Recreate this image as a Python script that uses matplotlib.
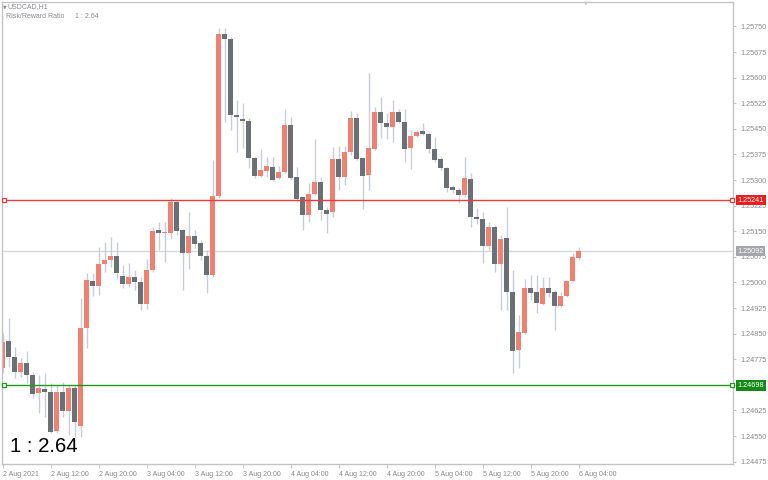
import matplotlib
matplotlib.use("Agg")
import matplotlib.pyplot as plt
import matplotlib.transforms as mtransforms
import numpy as np

plt.rcParams["font.family"] = ["Liberation Sans", "DejaVu Sans"]

# hourly USDCAD candles
opens = [1.24749, 1.24828, 1.24781, 1.24738, 1.24764, 1.24729, 1.24676, 1.24688, 1.24679, 1.24565,
         1.24679, 1.24623, 1.24691, 1.24579, 1.24866, 1.25004, 1.24989, 1.25054, 1.25066, 1.25077,
         1.25019, 1.24995, 1.25016, 1.25001, 1.24937, 1.25036, 1.25154, 1.25145, 1.25145, 1.25236,
         1.25154, 1.25086, 1.25136, 1.25115, 1.25077, 1.25022, 1.25253, 1.25728, 1.25713, 1.25490,
         1.25479, 1.25473, 1.25364, 1.25312, 1.25326, 1.25338, 1.25306, 1.25323, 1.25461, 1.25309,
         1.25250, 1.25197, 1.25259, 1.25294, 1.25212, 1.25206, 1.25362, 1.25309, 1.25382, 1.25482,
         1.25364, 1.25315, 1.25391, 1.25499, 1.25467, 1.25455, 1.25499, 1.25470, 1.25394, 1.25429,
         1.25444, 1.25435, 1.25391, 1.25362, 1.25335, 1.25279, 1.25271, 1.25256, 1.25303, 1.25192,
         1.25186, 1.25107, 1.25162, 1.25054, 1.25130, 1.24972, 1.24802, 1.24852, 1.24984, 1.24972,
         1.24937, 1.24984, 1.24972, 1.24931, 1.24960, 1.25004, 1.25071]
highs = [1.24852, 1.24896, 1.24811, 1.24779, 1.24799, 1.24738, 1.24729, 1.24735, 1.24705, 1.24699,
         1.24708, 1.24699, 1.24699, 1.24954, 1.25028, 1.25028, 1.25104, 1.25118, 1.25133, 1.25118,
         1.25051, 1.25057, 1.25036, 1.25016, 1.25069, 1.25162, 1.25177, 1.25177, 1.25247, 1.25241,
         1.25156, 1.25206, 1.25154, 1.25124, 1.25095, 1.25359, 1.25745, 1.25745, 1.25719, 1.25534,
         1.25526, 1.25482, 1.25367, 1.25391, 1.25367, 1.25367, 1.25341, 1.25508, 1.25485, 1.25338,
         1.25250, 1.25291, 1.25420, 1.25309, 1.25221, 1.25397, 1.25400, 1.25400, 1.25502, 1.25496,
         1.25367, 1.25613, 1.25514, 1.25543, 1.25496, 1.25534, 1.25508, 1.25508, 1.25446, 1.25446,
         1.25467, 1.25441, 1.25426, 1.25367, 1.25338, 1.25285, 1.25277, 1.25367, 1.25320, 1.25218,
         1.25206, 1.25177, 1.25168, 1.25139, 1.25221, 1.25036, 1.24904, 1.25010, 1.25022, 1.25022,
         1.25016, 1.25016, 1.24978, 1.24972, 1.25007, 1.25086, 1.25104]
lows = [1.24735, 1.24752, 1.24720, 1.24723, 1.24705, 1.24661, 1.24617, 1.24606, 1.24559, 1.24559,
        1.24606, 1.24553, 1.24547, 1.24547, 1.24808, 1.24960, 1.24963, 1.25030, 1.25045, 1.25013,
        1.24984, 1.24987, 1.24978, 1.24919, 1.24922, 1.25030, 1.25095, 1.25060, 1.25127, 1.25139,
        1.24978, 1.25039, 1.25101, 1.25066, 1.24969, 1.25016, 1.25247, 1.25470, 1.25446, 1.25382,
        1.25394, 1.25335, 1.25306, 1.25309, 1.25309, 1.25297, 1.25303, 1.25320, 1.25300, 1.25236,
        1.25154, 1.25177, 1.25256, 1.25183, 1.25145, 1.25192, 1.25271, 1.25285, 1.25373, 1.25359,
        1.25215, 1.25271, 1.25388, 1.25423, 1.25420, 1.25411, 1.25467, 1.25353, 1.25332, 1.25426,
        1.25432, 1.25379, 1.25353, 1.25329, 1.25265, 1.25262, 1.25233, 1.25250, 1.25162, 1.25171,
        1.25057, 1.25095, 1.25030, 1.24919, 1.24919, 1.24735, 1.24749, 1.24850, 1.24948, 1.24910,
        1.24934, 1.24957, 1.24861, 1.24928, 1.24957, 1.25001, 1.25066]
closes = [1.24825, 1.24781, 1.24738, 1.24764, 1.24729, 1.24673, 1.24691, 1.24679, 1.24562, 1.24679,
          1.24623, 1.24691, 1.24591, 1.24866, 1.25007, 1.24989, 1.25054, 1.25066, 1.25077, 1.25028,
          1.24995, 1.25016, 1.25001, 1.24937, 1.25036, 1.25151, 1.25145, 1.25148, 1.25236, 1.25151,
          1.25086, 1.25136, 1.25112, 1.25077, 1.25022, 1.25253, 1.25728, 1.25713, 1.25490, 1.25485,
          1.25473, 1.25364, 1.25312, 1.25329, 1.25341, 1.25300, 1.25323, 1.25461, 1.25306, 1.25244,
          1.25197, 1.25259, 1.25294, 1.25212, 1.25200, 1.25362, 1.25309, 1.25382, 1.25482, 1.25362,
          1.25312, 1.25394, 1.25499, 1.25467, 1.25455, 1.25499, 1.25470, 1.25391, 1.25429, 1.25441,
          1.25435, 1.25391, 1.25359, 1.25335, 1.25277, 1.25271, 1.25256, 1.25306, 1.25192, 1.25186,
          1.25107, 1.25162, 1.25054, 1.25127, 1.24972, 1.24799, 1.24855, 1.24984, 1.24969, 1.24940,
          1.24984, 1.24969, 1.24931, 1.24960, 1.25004, 1.25074, 1.25092]

take_profit = 1.25241
stop_loss = 1.24698
last_price = 1.25092
ratio_text = "1 : 2.64"

x_ticks = [0, 8, 16, 24, 32, 40, 48, 56, 64, 72, 80, 88, 96]
x_labels = ["2 Aug 2021", "2 Aug 12:00", "2 Aug 20:00", "3 Aug 04:00", "3 Aug 12:00",
            "3 Aug 20:00", "4 Aug 04:00", "4 Aug 12:00", "4 Aug 20:00", "5 Aug 04:00",
            "5 Aug 12:00", "5 Aug 20:00", "6 Aug 04:00"]
y_ticks = [1.24475, 1.24550, 1.24625, 1.24700, 1.24775, 1.24850, 1.24925, 1.25000, 1.25075,
           1.25150, 1.25225, 1.25300, 1.25375, 1.25450, 1.25525, 1.25600, 1.25675, 1.25750]

bull = "#f0806f"
bear = "#6b6f76"
wick = "#c9ccdc"
frame = "#c4c4c8"
txt = "#8a8a8e"

fig = plt.figure(figsize=(7.68, 4.8), dpi=100, facecolor="white")
ax = fig.add_axes([2 / 768, 16 / 480, 731 / 768, 462 / 480])
ax.set_facecolor("white")

x = np.arange(len(opens))
o = np.array(opens)
c = np.array(closes)
up = c >= o
ax.vlines(x, lows, highs, color=wick, lw=1, zorder=1)
ax.bar(x, np.maximum(np.abs(c - o), 0.00004), bottom=np.minimum(o, c), width=0.8,
       color=np.where(up, bull, bear), lw=0, zorder=2)

# price lines
ax.axhline(last_price, color="#d6d8e0", lw=1, zorder=0.5)
ax.axhline(take_profit, color="#f03a3a", lw=1, zorder=3)
ax.axhline(stop_loss, color="#1f9a1f", lw=1, zorder=3)
for lvl, col in [(take_profit, "#f03a3a"), (stop_loss, "#1f9a1f")]:
    ax.plot([0.2, 121.5], [lvl, lvl], ls="none", marker="s", ms=3, mfc="white",
            mec=col, mew=0.9, zorder=4, clip_on=False)

ax.set_xlim(-0.117, 121.72)
ax.set_ylim(1.24468, 1.258215)

for s in ax.spines.values():
    s.set_color(frame)
    s.set_linewidth(1)

ax.yaxis.tick_right()
ax.set_yticks(y_ticks)
ax.set_yticklabels(["%.5f" % v for v in y_ticks])
ax.tick_params(axis="y", length=2, color=frame, labelcolor=txt, labelsize=5.2, pad=3)
ax.set_xticks(x_ticks)
ax.set_xticklabels(x_labels)
ax.tick_params(axis="x", length=3, color=frame, labelcolor=txt, labelsize=5.0, pad=2)
for lab in ax.get_xticklabels():
    lab.set_ha("left")

# price tags on the right
trans = mtransforms.blended_transform_factory(ax.transAxes, ax.transData)
for lvl, bg in [(take_profit, "#ee1c1c"), (stop_loss, "#138a13"), (last_price, "#a4a6ae")]:
    ax.text(1.006, lvl, "%.5f" % lvl, transform=trans, ha="left", va="center", fontsize=5.2,
            color="white", zorder=6, clip_on=False,
            bbox=dict(boxstyle="square,pad=0.25", fc=bg, ec="none"))

# header text
fig.text(3 / 768, 1 - 7 / 480, "\u25bc", fontsize=3.5, color=txt, va="center",
         family="DejaVu Sans")
fig.text(8 / 768, 1 - 7 / 480, "USDCAD,H1", fontsize=5.0, color=txt, va="center")
fig.text(6 / 768, 1 - 17 / 480, "Risk/Reward Ratio", fontsize=5.0, color=txt, va="center")
fig.text(75 / 768, 1 - 17 / 480, ratio_text, fontsize=5.0, color=txt, va="center")
fig.text(586 / 768, 1 - 3 / 480, "\u25bc", fontsize=3.5, color="#c8c8cc", ha="center",
         va="center", family="DejaVu Sans")

fig.text(10 / 768, 1 - 452 / 480, ratio_text, fontsize=14.7, color="black", va="baseline")

fig.savefig("out.png", dpi=100, facecolor="white")
